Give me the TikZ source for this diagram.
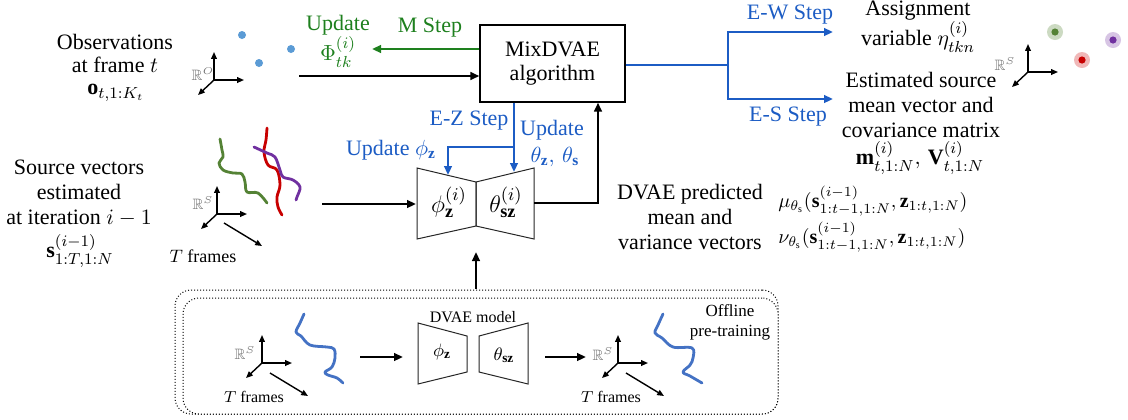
\documentclass[tikz,border=0pt]{standalone}
\usepackage{amssymb}
\usepackage{fontspec}
\setmainfont{Liberation Serif}
\usetikzlibrary{arrows.meta}

\definecolor{stepblue}{RGB}{28,92,196}
\definecolor{stepgreen}{RGB}{30,128,30}
\definecolor{obsblue}{RGB}{91,155,213}
\definecolor{trblue}{RGB}{68,114,196}
\definecolor{trgreen}{RGB}{84,130,53}
\definecolor{trred}{RGB}{200,0,0}
\definecolor{trpurple}{RGB}{112,48,160}

\tikzset{
  arr/.style={line width=1.15pt,-{Triangle[length=4.5pt,width=3.8pt]}},
  barr/.style={arr,draw=stepblue},
  bline/.style={line width=1.15pt,draw=stepblue},
  garr/.style={arr,draw=stepgreen},
  ax/.style={line width=0.7pt,-{Triangle[length=3.4pt,width=2.8pt]}},
  lbl/.style={font=\fontsize{11}{12.5}\selectfont,inner sep=0pt,align=center},
  smalllbl/.style={font=\fontsize{8}{10}\selectfont,inner sep=0pt,align=center},
  rlab/.style={font=\fontsize{7.5}{9}\selectfont,text=black!55,inner sep=0pt},
  traj/.style={line width=1.4pt,line cap=round,line join=round},
  trap/.style={draw=black!85,line width=0.5pt},
  panel/.style={draw,densely dotted,line width=0.5pt,fill=white,rounded corners=8pt,inner sep=0pt},
  pics/axes3/.style={code={
    \draw[ax] (0,0) -- (0,-28);
    \draw[ax] (0,0) -- (30,0);
    \draw[ax] (0,0) -- (-16,15);
  }},
  pics/taxis/.style={code={\draw[ax] (0,0) -- (38,23);}},
}

\begin{document}
\begin{tikzpicture}[x=0.5pt,y=-0.5pt]
\useasboundingbox (0,0) rectangle (1128,419);

% ---------- offline pre-training panel ----------
\node[panel,minimum width=301.5pt,minimum height=62pt] (panelback) at (476.5,352) {};
\node[panel,minimum width=297.5pt,minimum height=58pt] (panelfront) at (480.5,356) {};

\pic at (262,363) {axes3};
\pic at (270,373) {taxis};
\node[rlab] (rsA) at (245,353) {$\mathbb{R}^S$};
\node[smalllbl] (tfA) at (254,397) {$T$ frames};
\draw[traj,trblue] plot[smooth,tension=0.6] coordinates {(304,314) (300,323) (296,332) (301,336) (310,345) (327,347) (334,349) (335,358) (332,367) (325,372) (328,375) (337,378) (343,383)};

\coordinate (inA) at (360,357);
\coordinate (inB) at (403,357);
\draw[arr] (inA) -- (inB);

\draw[trap] (418,323) -- (467,336) -- (467,372) -- (418,384) -- cycle;
\draw[trap] (479,336) -- (528,323) -- (528,384) -- (479,372) -- cycle;
\node[smalllbl] (dvaemodel) at (473,317) {DVAE model};
\node[inner sep=0pt,font=\fontsize{9.5}{11}\selectfont] (phiA) at (442,352) {$\phi_{\mathbf{z}}$};
\node[inner sep=0pt,font=\fontsize{9.5}{11}\selectfont] (thA) at (504,355) {$\theta_{\mathbf{sz}}$};

\coordinate (outA) at (545,357);
\coordinate (outB) at (586,357);
\draw[arr] (outA) -- (outB);

\pic at (618,363) {axes3};
\pic at (626,373) {taxis};
\node[rlab] (rsB) at (603,354) {$\mathbb{R}^S$};
\node[smalllbl] (tfB) at (611,397) {$T$ frames};
\draw[traj,trblue] plot[smooth,tension=0.6] coordinates {(663,314) (658,325) (655,333) (662,338) (673,347) (692,348) (693,358) (690,365) (683,372) (690,376) (702,383)};
\node[smalllbl,font=\fontsize{8.5}{10}\selectfont] (offline) at (730,322) {Offline\\pre-training};

% ---------- observations ----------
\node[lbl,font=\fontsize{11}{11.5}\selectfont] (obs) at (115,53) {Observations\\at frame $t$};
\node[lbl] (obsmath) at (116,93) {$\mathbf{o}_{t,1:K_t}$};
\pic at (214,80) {axes3};
\node[rlab] (rO) at (203,74) {$\mathbb{R}^O$};
\fill[obsblue] (242,35) circle (4);
\fill[obsblue] (259,63) circle (4);
\fill[obsblue] (291,49) circle (4);

% ---------- algorithm box ----------
\node[draw,line width=0.6pt,minimum width=72.5pt,minimum height=38.5pt,inner sep=0pt,
      align=center,font=\fontsize{11}{12}\selectfont] (algo) at (552.5,63.5) {MixDVAE\\algorithm};

\coordinate (obsStart) at (299,76);
\draw[arr] (obsStart) -- (obsStart -| algo.west);

\coordinate (phiEnd) at (372,49);
\draw[garr] (phiEnd -| algo.west) -- (phiEnd);
\node[lbl,text=stepgreen] (mstep) at (430,28) {M Step};
\node[lbl,text=stepgreen] (updPhi) at (338,25) {Update};
\node[lbl,text=stepgreen] (phiLbl) at (338,52) {$\Phi^{(i)}_{tk}$};

% ---------- E-W / E-S steps ----------
\coordinate (ebranch) at (728,65);
\coordinate (ewEnd) at (833,32);
\coordinate (esEnd) at (833,99);
\draw[bline] (ebranch -| algo.east) -- (ebranch);
\draw[barr] (ebranch) -- (ebranch |- ewEnd) -- (ewEnd);
\draw[barr] (ebranch) -- (ebranch |- esEnd) -- (esEnd);
\node[lbl,text=stepblue] (ewstep) at (790,15) {E-W Step};
\node[lbl,text=stepblue] (esstep) at (788,117) {E-S Step};

\node[lbl] (assign) at (918,11) {Assignment};
\node[lbl] (assignvar) at (918,37) {variable $\eta^{(i)}_{tkn}$};
\node[lbl] (estim) at (921,105) {Estimated source\\mean vector and\\covariance matrix};
\node[lbl] (mv) at (920,158) {$\mathbf{m}^{(i)}_{t,1:N},\,\mathbf{V}^{(i)}_{t,1:N}$};

\pic at (1028,72) {axes3};
\node[rlab] (rS2) at (1005,64) {$\mathbb{R}^S$};
\fill[trgreen!30] (1055,32) circle (8);
\fill[trgreen] (1055,32) circle (3.6);
\fill[trred!28] (1082,60) circle (8);
\fill[trred] (1082,60) circle (3.6);
\fill[trpurple!28] (1113,40) circle (8);
\fill[trpurple] (1113,40) circle (3.6);

% ---------- source vectors ----------
\node[lbl] (src) at (79,193) {Source vectors\\estimated\\at iteration $i-1$};
\node[lbl] (srcmath) at (80,251) {$\mathbf{s}^{(i-1)}_{1:T,1:N}$};
\pic at (217,214) {axes3};
\pic at (224,223) {taxis};
\node[rlab] (rS1) at (203,203) {$\mathbb{R}^S$};
\node[lbl,font=\fontsize{9}{11}\selectfont] (tf1) at (203,256) {$T$ frames};
\draw[traj,trgreen] plot[smooth,tension=0.6] coordinates {(220,139) (222,150) (223,157) (219,163) (223,170) (233,173) (242,174) (245,182) (247,192) (258,193) (267,203)};
\draw[traj,trred] plot[smooth,tension=0.6] coordinates {(267,128) (266,140) (264,152) (268,165) (277,170) (280,185) (277,197) (278,207) (282,215)};
\draw[traj,trpurple] plot[smooth,tension=0.6] coordinates {(254,147) (267,153) (275,157) (280,170) (283,177) (293,180) (300,187) (297,197) (296,200)};

\coordinate (srcStart) at (322,204);
\coordinate (encIn) at (416,204);
\draw[arr] (srcStart) -- (encIn);

% ---------- DVAE encoder / decoder ----------
\draw[trap] (417,168) -- (476,182) -- (476,226) -- (417,239) -- cycle;
\draw[trap] (476,182) -- (534,168) -- (534,239) -- (476,226) -- cycle;
\node[inner sep=0pt,font=\fontsize{13}{15}\selectfont] (enc) at (449,202) {$\phi^{(i)}_{\mathbf{z}}$};
\node[inner sep=0pt,font=\fontsize{13}{15}\selectfont] (dec) at (506,202) {$\theta^{(i)}_{\mathbf{sz}}$};

% E-Z step
\coordinate (ezsplit) at (514,147);
\coordinate (encTop) at (448,175);
\coordinate (decTop) at (514,172);
\draw[barr] (ezsplit |- algo.south) -- (decTop);
\draw[barr] (ezsplit) -- (ezsplit -| encTop) -- (encTop);
\node[lbl,text=stepblue] (ezstep) at (469,121) {E-Z Step};
\node[lbl,text=stepblue] (updphi) at (391,150) {Update $\phi_{\mathbf{z}}$};
\node[lbl,text=stepblue] (updth) at (552,130) {Update};
\node[lbl,text=stepblue] (thlbl) at (555,157) {$\theta_{\mathbf{z}},\,\theta_{\mathbf{s}}$};

% decoder output back to the algorithm
\coordinate (decOut) at (534,203);
\coordinate (retx) at (598,203);
\draw[arr] (decOut) -- (retx) -- (retx |- algo.south);

% pre-trained model feeds the DVAE
\coordinate (ptOut) at (476,289);
\coordinate (ptIn) at (476,252);
\draw[arr] (ptOut) -- (ptIn);

% ---------- predicted distributions ----------
\node[lbl,font=\fontsize{11}{12.7}\selectfont] (pred) at (690,217) {DVAE predicted\\mean and\\variance vectors};
\node[lbl,anchor=west,font=\fontsize{10}{12}\selectfont] (mu) at (778,201) {$\mu_{\theta_{\mathrm{s}}}(\mathbf{s}^{(i-1)}_{1:t-1,1:N},\mathbf{z}_{1:t,1:N})$};
\node[lbl,anchor=west,font=\fontsize{10}{12}\selectfont] (nu) at (778,237) {$\nu_{\theta_{\mathrm{s}}}(\mathbf{s}^{(i-1)}_{1:t-1,1:N},\mathbf{z}_{1:t,1:N})$};
\end{tikzpicture}
\end{document}
